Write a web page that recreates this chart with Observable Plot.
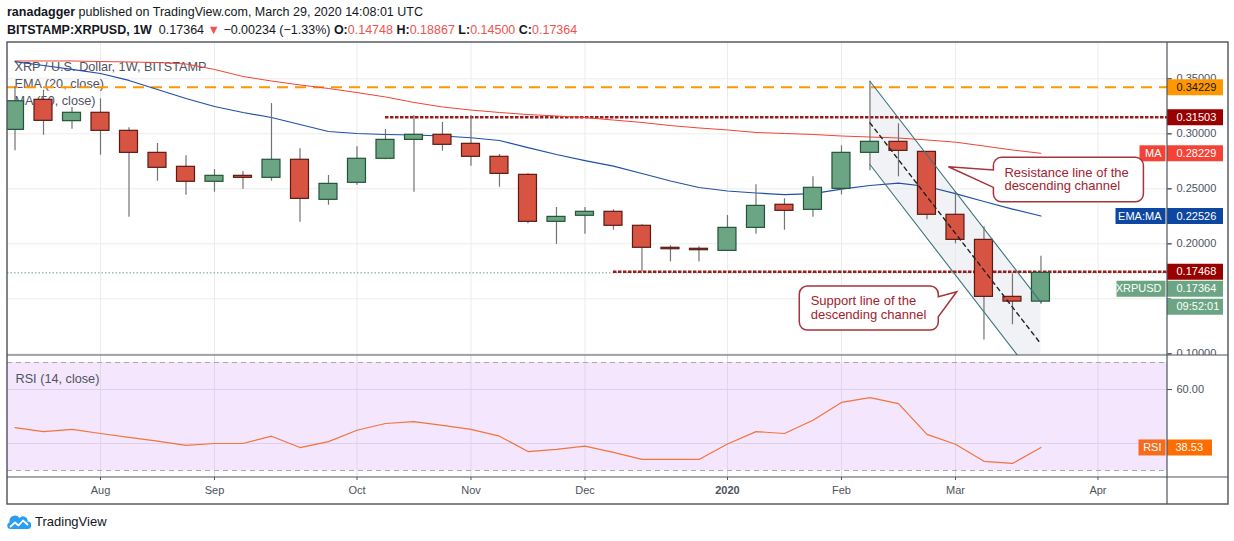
<!DOCTYPE html>
<html>
<head>
<meta charset="utf-8">
<script src="https://cdn.jsdelivr.net/npm/d3@7"></script>
<script src="https://cdn.jsdelivr.net/npm/@observablehq/plot@0.6"></script>
<style>
  html, body { margin: 0; padding: 0; background: #fff; }
  #page { position: relative; width: 1234px; height: 541px; overflow: hidden; font-family: "Liberation Sans", Arial, sans-serif; color: #131722; }
  .hdr { position: absolute; left: 7px; font-size: 12.5px; line-height: 16px; white-space: nowrap; }
  .r { color: #ef5350; }
  #main { position: absolute; left: 0; top: 42px; }
  #rsi { position: absolute; left: 0; top: 355px; }
  #frame { position: absolute; left: 0; top: 0; pointer-events: none; }
  #logo { position: absolute; left: 7px; top: 513px; display: flex; align-items: center; font-size: 13px; }
</style>
</head>
<body>
<div id="page">
  <div class="hdr" style="top:4px"><b>ranadagger</b> published on TradingView.com, March 29, 2020 14:08:01 UTC</div>
  <div class="hdr" id="ohlc" style="top:22px"></div>
  <div id="main"></div>
  <div id="rsi"></div>
  <div id="logo">
    <svg width="24" height="17" viewBox="0 0 24 17">
      <path d="M3.5 16 A3.5 3.5 0 0 1 2.6 9.2 A5.5 5.5 0 0 1 12.5 5 A4.6 4.6 0 0 1 20.6 8.6 A3.7 3.7 0 0 1 20.5 16 Z" fill="#2a9df4"/>
      <path d="M3 14 L8 9.5 L11.5 12.5 L16 7.5 L21 12" stroke="#fff" stroke-width="1.8" fill="none" stroke-linejoin="round"/>
    </svg>
    <span style="margin-left:4px">TradingView</span>
  </div>
  <svg id="frame" width="1234" height="541">
    <rect x="7" y="42" width="1221" height="462" fill="none" stroke="#4e5259" stroke-width="1.4"/>
    <line x1="1167" y1="42" x2="1167" y2="504" stroke="#4e5259" stroke-width="1.2"/>
    <line x1="7" y1="355" x2="1228" y2="355" stroke="#4e5259" stroke-width="1.2"/>
    <line x1="7" y1="477" x2="1228" y2="477" stroke="#4e5259" stroke-width="1.2"/>
  </svg>
</div>
<script>
// ---------- data ----------
const weeks = ["2019-07-15","2019-07-22","2019-07-29","2019-08-05","2019-08-12","2019-08-19","2019-08-26",
  "2019-09-02","2019-09-09","2019-09-16","2019-09-23","2019-09-30","2019-10-07","2019-10-14","2019-10-21",
  "2019-10-28","2019-11-04","2019-11-11","2019-11-18","2019-11-25","2019-12-02","2019-12-09","2019-12-16",
  "2019-12-23","2019-12-30","2020-01-06","2020-01-13","2020-01-20","2020-01-27","2020-02-03","2020-02-10",
  "2020-02-17","2020-02-24","2020-03-02","2020-03-09","2020-03-16","2020-03-23"];
const open  = [0.3036,0.3309,0.3115,0.3191,0.3027,0.2827,0.2700,0.2564,0.2618,0.2600,0.2764,0.2400,0.2555,
  0.2773,0.2945,0.2991,0.2909,0.2791,0.2627,0.2200,0.2255,0.2291,0.2164,0.1964,0.1955,0.1936,0.2145,0.2355,
  0.2309,0.2500,0.2827,0.2927,0.2836,0.2264,0.2036,0.1518,0.14748];
const high  = [0.3430,0.3394,0.3239,0.3318,0.3055,0.2912,0.2800,0.2675,0.2657,0.3275,0.2864,0.2621,0.2882,
  0.3039,0.3166,0.3103,0.3166,0.2812,0.2636,0.2330,0.2330,0.2309,0.2173,0.1982,0.1973,0.2257,0.2536,0.2409,
  0.2609,0.2891,0.3478,0.3091,0.2840,0.2473,0.2155,0.1727,0.18867];
const low   = [0.2845,0.2987,0.3042,0.2805,0.2242,0.2569,0.2442,0.2469,0.2497,0.2569,0.2196,0.2351,0.2533,
  0.2764,0.2469,0.2842,0.2705,0.2515,0.2182,0.1996,0.2087,0.2124,0.1745,0.1836,0.1836,0.1930,0.2087,0.2124,
  0.2242,0.2445,0.2664,0.2609,0.2218,0.2000,0.1127,0.1264,0.14500];
const close = [0.3296,0.3118,0.3191,0.3027,0.2827,0.2691,0.2564,0.2618,0.2600,0.2764,0.2409,0.2545,0.2773,
  0.2945,0.2991,0.2900,0.2791,0.2636,0.2200,0.2245,0.2291,0.2164,0.1964,0.1951,0.1942,0.2145,0.2345,0.2300,
  0.2509,0.2827,0.2927,0.2845,0.2264,0.2036,0.1518,0.14748,0.17364];
const ema20 = [0.3657,0.3621,0.3585,0.3548,0.3485,0.3403,0.3321,0.3248,0.3194,0.3148,0.3085,0.3021,0.3003,
  0.2994,0.2989,0.2980,0.2964,0.2939,0.2875,0.2812,0.2757,0.2707,0.2639,0.2571,0.2512,0.2480,0.2462,0.2448,
  0.2457,0.2498,0.2530,0.2551,0.2521,0.2457,0.2385,0.2316,0.22526];
const ma50  = [0.3662,0.3662,0.3662,0.3657,0.3653,0.3648,0.3635,0.3585,0.3521,0.3480,0.3444,0.3412,0.3375,
  0.3335,0.3285,0.3244,0.3216,0.3194,0.3175,0.3162,0.3148,0.3125,0.3103,0.3075,0.3053,0.3035,0.3012,0.3003,
  0.2994,0.2980,0.2971,0.2962,0.2944,0.2924,0.2889,0.2853,0.28229];
const rsi14 = [45.9,44.4,45.2,43.7,42.3,40.9,39.3,40.0,40.0,42.7,38.5,40.7,44.9,47.4,48.1,46.7,45.2,42.7,37.0,
  37.8,39.0,36.7,34.1,34.1,34.1,39.8,44.4,43.7,48.6,55.2,57.0,54.8,43.4,39.7,33.4,32.6,38.53];

const monthTicks  = ["2019-08-05","2019-09-02","2019-10-07","2019-11-04","2019-12-02","2020-01-06","2020-02-03","2020-03-02","2020-04-06"];
const monthLabels = ["Aug","Sep","Oct","Nov","Dec","2020","Feb","Mar","Apr"];
const priceGrid   = [0.10,0.15,0.20,0.25,0.30,0.35];
const priceLabels = [0.10,0.20,0.25,0.30,0.35];   // 0.15000 is hidden behind the price boxes
const rsiGrid     = [40,60];
const rsiLabels   = [60];                          // 40.00 is hidden behind the RSI box

const header = {symbol:"BITSTAMP:XRPUSD, 1W", change:"−0.00234", pct:"−1.33%"};
const legendLines = ["XRP / U.S. Dollar, 1W, BITSTAMP","EMA (20, close)","MA (50, close)"];
const longLine    = 0.34229;                       // orange dashed level
const levels      = [{price:0.31503, from:"2019-10-14"}, {price:0.17468, from:"2019-12-09"}];
const channelStart = {week:"2020-02-10", price:0.3478};
const channelEnd   = {week:"2020-03-23", price:0.1468};
const channelWidth = 0.0757;
const callouts = [
  {lines:["Resistance line of the","descending channel"], bar:32.77, price:0.2696, side:"right"},
  {lines:["Support line of the","descending channel"], bar:33.06, price:0.1560, side:"left"}
];
const countdown = "09:52:01";

// ---------- helpers ----------
const DAY = 864e5, WEEK = 7 * DAY;
const toDate = s => new Date(s + "T00:00:00Z");
const weekDates = weeks.map(toDate);
const monthDates = monthTicks.map(toDate);
const labelOf = new Map(monthDates.map((d, i) => [+d, monthLabels[i]]));
const xDomain = [new Date(+weekDates[0] - 0.263 * WEEK), new Date(+weekDates[weekDates.length - 1] + 4.44 * WEEK)];
const HALF = 2.21 * DAY;
const FONT = '"Liberation Sans", Arial, sans-serif';
const FRAME_W = 1160;
const GREEN = "#6ba583", GREEN_S = "#225437", RED = "#d75442", RED_S = "#5b1a13";

const candles = weeks.map((w, i) => ({date: weekDates[i], open: open[i], high: high[i], low: low[i], close: close[i], ema: ema20[i], ma: ma50[i], rsi: rsi14[i]}));
const ups = candles.filter(d => d.close >= d.open);
const downs = candles.filter(d => d.close < d.open);
const last = candles[candles.length - 1];

const c0 = toDate(channelStart.week), c1 = toDate(channelEnd.week);
const channel = [
  {date: c0, upper: channelStart.price, lower: channelStart.price - channelWidth},
  {date: c1, upper: channelEnd.price, lower: channelEnd.price - channelWidth}
].map(d => ({...d, mid: (d.upper + d.lower) / 2}));

const fmt5 = d3.format(".5f");

function valueBox(price, text, fill, textFill, dy = 0, w = 56) {
  return [
    Plot.ruleY([price], {stroke: fill, strokeWidth: 16, insetLeft: FRAME_W, insetRight: -w, dy}),
    Plot.text([price], {y: d => d, text: () => text, frameAnchor: "right", dx: 9, dy, textAnchor: "start", fill: textFill, fontSize: 11})
  ];
}
function labelBox(price, text, fill, w, dy = 0) {
  return [
    Plot.ruleY([price], {stroke: fill, strokeWidth: 16, insetLeft: FRAME_W - w - 1.5, insetRight: 1.5, dy}),
    Plot.text([price], {y: d => d, text: () => text, frameAnchor: "right", dx: -6, dy, textAnchor: "end", fill: "#fff", fontSize: 11})
  ];
}

// ---------- header ----------
document.getElementById("ohlc").innerHTML =
  `<b>${header.symbol}</b>&nbsp; ${fmt5(last.close)} <span class="r">▼</span> ${header.change} (${header.pct}) ` +
  `<b>O:</b><span class="r">${fmt5(last.open)}</span> <b>H:</b><span class="r">${fmt5(last.high)}</span> ` +
  `<b>L:</b><span class="r">${fmt5(last.low)}</span> <b>C:</b><span class="r">${fmt5(last.close)}</span>`;

// ---------- main pane ----------
const main = Plot.plot({
  width: 1234, height: 313, marginLeft: 7, marginRight: 67, marginTop: 0, marginBottom: 0,
  x: {type: "utc", domain: xDomain, axis: null},
  y: {domain: [0.0985, 0.383]},
  style: {fontFamily: FONT, fontSize: "11px", color: "#4c525e", background: "white", overflow: "visible"},
  marks: [
    Plot.ruleY(priceGrid, {stroke: "#ececec"}),
    Plot.ruleX(monthDates, {stroke: "#ececec"}),
    ...legendLines.map((t, i) => Plot.text([t], {frameAnchor: "top-left", dx: 7, dy: 19 + i * 17, textAnchor: "start", fill: "#50535e", fontSize: 12.7})),
    Plot.areaY(channel, {x: "date", y1: "lower", y2: "upper", fill: "#e3e6ec", fillOpacity: 0.5, clip: true}),
    Plot.ruleY([longLine], {stroke: "#ff9800", strokeWidth: 2, strokeDasharray: "11 7"}),
    Plot.ruleY([last.close], {stroke: "#6ba583", strokeWidth: 1, strokeDasharray: "1.5 2"}),
    Plot.ruleY(levels, {y: "price", x1: d => toDate(d.from), x2: () => xDomain[1], stroke: "#9c1a1a", strokeWidth: 2.5, strokeDasharray: "3.5 1.5"}),
    Plot.lineY(candles, {x: "date", y: "ma", stroke: "#f44336", strokeWidth: 1}),
    Plot.lineY(candles, {x: "date", y: "ema", stroke: "#1f50a6", strokeWidth: 1.2}),
    Plot.ruleX(candles, {x: "date", y1: "low", y2: "high", stroke: "#737375", strokeWidth: 1.2}),
    Plot.rect(ups, {x1: d => new Date(+d.date - HALF), x2: d => new Date(+d.date + HALF), y1: "open", y2: "close", fill: GREEN, stroke: GREEN_S, strokeWidth: 1.2, clip: true}),
    Plot.rect(downs, {x1: d => new Date(+d.date - HALF), x2: d => new Date(+d.date + HALF), y1: "open", y2: "close", fill: RED, stroke: RED_S, strokeWidth: 1.2, clip: true}),
    Plot.line(channel, {x: "date", y: "upper", stroke: "#3d7479", strokeWidth: 1.1, clip: true}),
    Plot.line(channel, {x: "date", y: "lower", stroke: "#3d7479", strokeWidth: 1.1, clip: true}),
    Plot.line(channel, {x: "date", y: "mid", stroke: "#222", strokeWidth: 1.4, strokeDasharray: "4 4", clip: true}),
    Plot.tickY(priceGrid, {y: d => d, stroke: "#4c525e", insetLeft: FRAME_W, insetRight: -4}),
    Plot.axisY(priceLabels, {anchor: "right", tickFormat: fmt5, tickSize: 4, tickPadding: 5, label: null, fontSize: 11}),
    ...valueBox(longLine, fmt5(longLine), "#ff9800", "#131722"),
    ...valueBox(levels[0].price, fmt5(levels[0].price), "#990000", "#fff"),
    ...labelBox(last.ma, "MA", "#f44336", 26),
    ...valueBox(last.ma, fmt5(last.ma), "#f44336", "#fff"),
    ...labelBox(last.ema, "EMA:MA", "#0d47a1", 50),
    ...valueBox(last.ema, fmt5(last.ema), "#0d47a1", "#fff"),
    ...valueBox(levels[1].price, fmt5(levels[1].price), "#990000", "#fff"),
    ...labelBox(last.close, "XRPUSD", GREEN, 49, 16),
    ...valueBox(last.close, fmt5(last.close), GREEN, "#fff", 16),
    ...valueBox(last.close, countdown, GREEN, "#fff", 34)
  ]
});
document.getElementById("main").append(main);

// callouts, placed through the plot's own scales
{
  const sx = main.scale("x"), sy = main.scale("y");
  const g = d3.select(main).append("g").attr("text-anchor", "start");
  const r = 8;
  for (const c of callouts) {
    const tx = sx.apply(new Date(+weekDates[0] + c.bar * WEEK));
    const ty = sy.apply(c.price);
    let L, R, T, B, p1, p2, path, textX, base1, base2;
    if (c.side === "right") {
      L = tx + 45; R = tx + 195; T = ty - 9.4; B = ty + 35; p1 = ty + 3.3; p2 = ty + 20.6;
      path = `M${L + r},${T} H${R - r} A${r},${r} 0 0 1 ${R},${T + r} V${B - r} A${r},${r} 0 0 1 ${R - r},${B} H${L + r} A${r},${r} 0 0 1 ${L},${B - r} V${p2} L${tx},${ty} L${L},${p1} V${T + r} A${r},${r} 0 0 1 ${L + r},${T} Z`;
      textX = L + 11; base1 = ty + 10; base2 = ty + 23.2;
    } else {
      L = tx - 157.4; R = tx - 18.4; T = ty - 5.7; B = ty + 38.3; p1 = ty + 5; p2 = ty + 25;
      path = `M${L + r},${T} H${R - r} A${r},${r} 0 0 1 ${R},${T + r} V${p1} L${tx},${ty} L${R},${p2} V${B - r} A${r},${r} 0 0 1 ${R - r},${B} H${L + r} A${r},${r} 0 0 1 ${L},${B - r} V${T + r} A${r},${r} 0 0 1 ${L + r},${T} Z`;
      textX = L + 11.4; base1 = ty + 13.6; base2 = ty + 26.8;
    }
    g.append("path").attr("d", path).attr("fill", "#fff").attr("stroke", "#a8323d").attr("stroke-width", 1.5);
    [base1, base2].forEach((b, i) => {
      g.append("text").attr("x", textX).attr("y", b).attr("fill", "#a3222d").attr("text-anchor", "start")
        .attr("font-family", FONT).attr("font-size", 13).text(c.lines[i]);
    });
  }
}

// ---------- RSI pane ----------
const rsiPlot = Plot.plot({
  width: 1234, height: 149, marginLeft: 7, marginRight: 67, marginTop: 0, marginBottom: 27,
  x: {type: "utc", domain: xDomain},
  y: {domain: [27.4, 72.6]},
  style: {fontFamily: FONT, fontSize: "11px", color: "#4c525e", background: "white"},
  marks: [
    Plot.rect([{lo: 30, hi: 70}], {x1: () => xDomain[0], x2: () => xDomain[1], y1: "lo", y2: "hi", fill: "#f3e6fd"}),
    Plot.ruleX(monthDates, {stroke: "#e0d6ee"}),
    Plot.ruleY(rsiGrid, {stroke: "#ddd0ec"}),
    Plot.ruleY([30, 70], {stroke: "#a6a7b0", strokeDasharray: "5 4"}),
    Plot.text(["RSI (14, close)"], {frameAnchor: "top-left", dx: 8, dy: 18, textAnchor: "start", fill: "#50535e", fontSize: 12.7}),
    Plot.lineY(candles, {x: "date", y: "rsi", stroke: "#f4743c", strokeWidth: 1.2}),
    Plot.tickY(rsiGrid, {y: d => d, stroke: "#4c525e", insetLeft: FRAME_W, insetRight: -4}),
    Plot.axisY(rsiLabels, {anchor: "right", tickFormat: d3.format(".2f"), tickSize: 4, tickPadding: 5, label: null, fontSize: 11}),
    Plot.axisX(monthDates.filter(d => !/^\d{4}$/.test(labelOf.get(+d))), {anchor: "bottom", tickFormat: d => labelOf.get(+d), tickSize: 3, tickPadding: 6, label: null, fontSize: 11}),
    Plot.axisX(monthDates.filter(d => /^\d{4}$/.test(labelOf.get(+d))), {anchor: "bottom", tickFormat: d => labelOf.get(+d), tickSize: 3, tickPadding: 6, label: null, fontSize: 11, fontWeight: "bold"}),
    Plot.ruleY([last.rsi], {stroke: "#f96b1c", strokeWidth: 16, insetLeft: FRAME_W - 28.5, insetRight: 1.5}),
    Plot.text([last.rsi], {y: d => d, text: () => "RSI", frameAnchor: "right", dx: -6, textAnchor: "end", fill: "#fff", fontSize: 11}),
    Plot.ruleY([last.rsi], {stroke: "#ff6d00", strokeWidth: 16, insetLeft: FRAME_W, insetRight: -45}),
    Plot.text([last.rsi], {y: d => d, text: d => d.toFixed(2), frameAnchor: "right", dx: 8, textAnchor: "start", fill: "#fff", fontSize: 11})
  ]
});
document.getElementById("rsi").append(rsiPlot);
</script>
</body>
</html>
